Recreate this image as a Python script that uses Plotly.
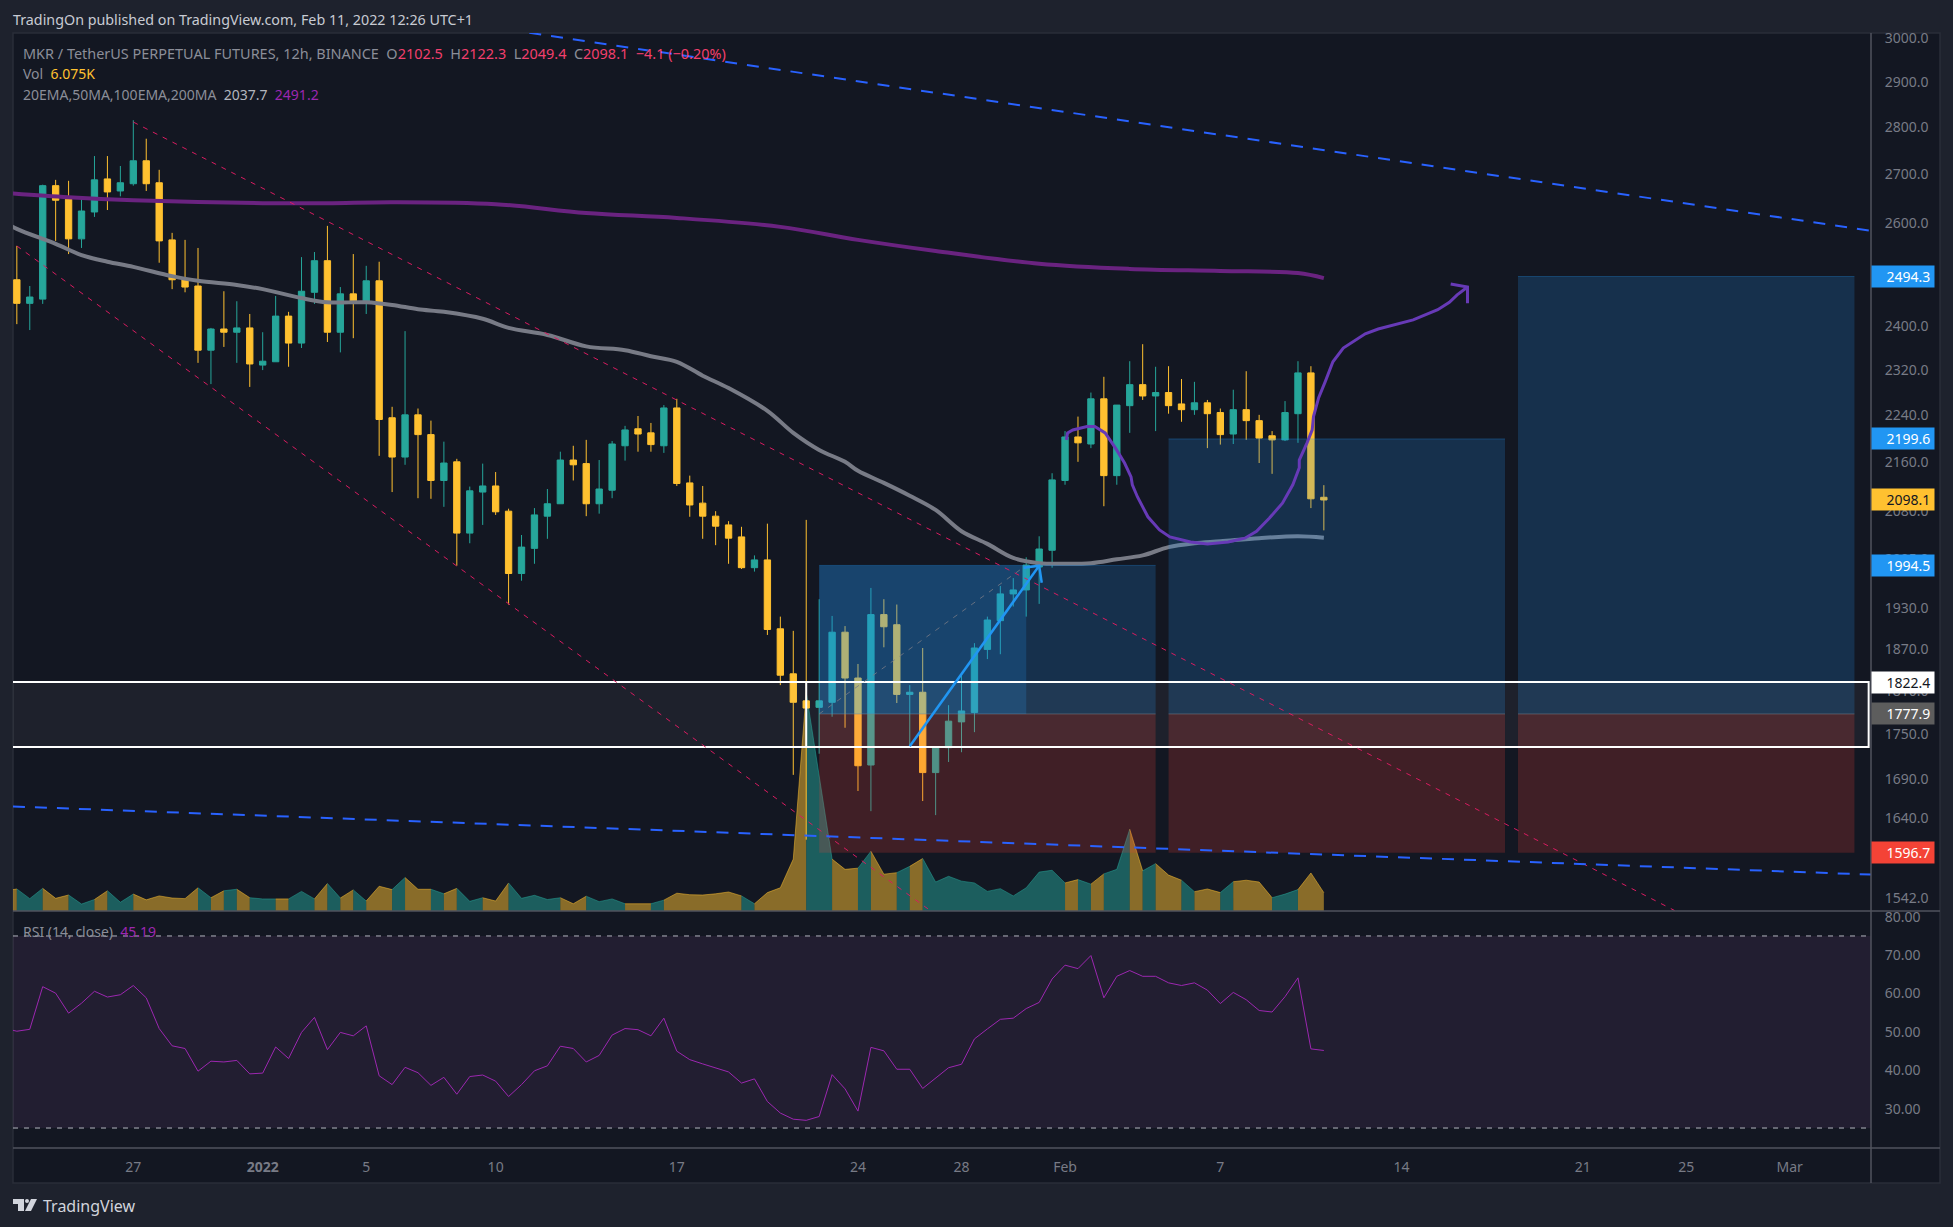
import numpy as np
import pandas as pd
import plotly.graph_objects as go

W, H = 1953, 1227

# 12h candles, first one is 2021-12-22 12:00 (bar -9), bar 0 is Dec 27
candle_open = [2488, 2443, 2451, 2676, 2648, 2568, 2622, 2690, 2665, 2680, 2728, 2682, 2566, 2490, 2476, 2356, 2395, 2389, 2397, 2329,
               2335, 2419, 2369, 2464, 2525, 2389, 2461, 2443, 2486, 2236, 2169, 2241, 2207, 2130, 2161, 2045, 2111, 2121, 2080, 1982,
               2021, 2072, 2092, 2164, 2158, 2092, 2114, 2188, 2217, 2210, 2188, 2253, 2126, 2093, 2072, 2058, 2039, 1991, 2003, 1899,
               1834, 1796, 1787, 1794, 1894, 1828, 1709, 1920, 1905, 1805, 1808, 1699, 1732, 1767, 1780, 1869, 1911, 1951, 1957, 1992,
               2018, 2130, 2203, 2191, 2269, 2138, 2257, 2294, 2274, 2280, 2260, 2250, 2262, 2245, 2208, 2250, 2231, 2205, 2198, 2243,
               2315, 2102.5]
candle_high = [2554, 2476, 2678, 2688, 2686, 2652, 2738, 2738, 2717, 2815, 2775, 2709, 2580, 2566, 2550, 2397, 2466, 2447, 2423, 2389,
               2457, 2427, 2532, 2542, 2594, 2474, 2538, 2515, 2523, 2255, 2391, 2252, 2231, 2195, 2166, 2120, 2158, 2144, 2084, 2042,
               2085, 2116, 2178, 2188, 2198, 2164, 2196, 2222, 2239, 2227, 2258, 2269, 2138, 2121, 2080, 2064, 2055, 2010, 2060, 1917,
               1896, 2066, 1943, 1918, 1903, 1848, 1960, 1943, 1935, 1818, 1871, 1732, 1790, 1832, 1878, 1917, 1963, 1975, 2007, 2040,
               2142, 2213, 2238, 2280, 2308, 2258, 2336, 2367, 2326, 2327, 2304, 2299, 2267, 2252, 2285, 2318, 2241, 2213, 2265, 2336,
               2327, 2122.3]
candle_low = [2404, 2393, 2442, 2564, 2538, 2550, 2612, 2626, 2654, 2676, 2665, 2521, 2470, 2464, 2333, 2295, 2362, 2333, 2290, 2320,
              2335, 2326, 2360, 2442, 2371, 2352, 2378, 2423, 2171, 2111, 2156, 2101, 2100, 2087, 1994, 2029, 2058, 2074, 1935, 1971,
              1997, 2036, 2092, 2130, 2072, 2076, 2101, 2163, 2178, 2178, 2176, 2121, 2071, 2036, 2026, 1997, 1989, 1985, 1890, 1818,
              1696, 1613, 1724, 1774, 1759, 1675, 1649, 1872, 1793, 1734, 1662, 1644, 1713, 1726, 1753, 1855, 1862, 1932, 1917, 1936,
              1991, 2123, 2161, 2184, 2088, 2123, 2210, 2267, 2213, 2243, 2229, 2241, 2184, 2190, 2191, 2198, 2159, 2141, 2196, 2193,
              2085, 2049.4]
candle_close = [2443, 2455, 2676, 2646, 2568, 2624, 2688, 2663, 2682, 2728, 2680, 2564, 2488, 2474, 2356, 2395, 2389, 2397, 2331, 2336,
                2419, 2369, 2466, 2525, 2389, 2461, 2443, 2486, 2233, 2169, 2241, 2207, 2130, 2159, 2045, 2113, 2121, 2079, 1982, 2023,
                2074, 2092, 2164, 2156, 2092, 2116, 2191, 2215, 2208, 2190, 2253, 2125, 2090, 2072, 2056, 2037, 1991, 2003, 1898, 1832,
                1794, 1786, 1796, 1894, 1828, 1708, 1920, 1902, 1805, 1808, 1699, 1732, 1768, 1782, 1871, 1912, 1951, 1957, 1995, 2020,
                2131, 2203, 2193, 2269, 2138, 2258, 2294, 2274, 2280, 2257, 2250, 2262, 2243, 2207, 2250, 2231, 2201, 2198, 2245, 2315,
                2100, 2098.1]

# volume in K and RSI start one bar earlier (bar -10)
volume = [6.6, 7.3, 4.1, 7.5, 4.2, 5.3, 2.3, 3.8, 6.7, 2.9, 5.6, 3.7, 5.0, 4.3, 4.1, 7.7, 4.4, 6.7, 7.2, 4.4,
          4.0, 4.0, 4.0, 6.5, 4.0, 9.1, 4.3, 7.0, 3.3, 8.2, 7.1, 11.1, 7.2, 7.2, 5.7, 7.5, 3.2, 4.4, 3.3, 9.3,
          4.2, 5.2, 3.8, 4.4, 2.4, 4.9, 3.1, 4.0, 2.4, 2.4, 2.4, 3.6, 5.9, 5.4, 5.3, 5.7, 6.3, 5.0, 2.4, 6.1,
          7.7, 17.2, 72.4, 44.8, 17.2, 13.8, 14.2, 19.8, 12.2, 12.7, 14.8, 17.4, 9.6, 11.5, 9.9, 9.3, 6.5, 7.4, 5.0, 7.7,
          12.9, 13.5, 9.3, 10.4, 8.9, 12.3, 13.8, 27.1, 13.3, 15.7, 11.9, 10.2, 6.4, 7.3, 6.1, 9.7, 10.2, 9.6, 4.4, 5.6,
          7.1, 12.6, 6.075]
rsi = [51.0, 50.2, 50.7, 61.8, 60.1, 54.9, 57.5, 60.6, 59.1, 59.7, 62.1, 58.9, 50.9, 46.4, 45.7, 39.8, 42.4, 42.2, 42.6, 39.1,
       39.3, 46.1, 43.1, 49.9, 53.8, 45.4, 49.9, 49.0, 51.6, 38.6, 36.3, 40.8, 39.4, 36.1, 38.2, 33.8, 38.4, 38.8, 37.2, 33.2,
       36.3, 39.9, 41.2, 46.3, 45.7, 42.2, 43.9, 49.2, 50.9, 50.6, 49.0, 53.6, 45.0, 42.8, 41.7, 40.6, 39.6, 36.7, 37.8, 31.9,
       28.9, 27.3, 27.0, 28.0, 38.9, 35.2, 29.4, 46.0, 45.1, 40.3, 40.3, 35.3, 38.0, 40.7, 41.6, 48.2, 50.8, 53.3, 53.6, 56.1,
       57.7, 63.8, 67.4, 66.5, 69.9, 58.9, 64.5, 66.0, 64.5, 64.5, 62.8, 62.1, 62.8, 60.9, 57.4, 60.3, 58.4, 55.6, 55.2, 59.2,
       64.1, 45.6, 45.19]

ma100_bars = [-10, -9, -6, -4, -2, 0, 3, 5, 8, 10, 13, 15, 18, 20, 22, 24, 27, 29, 32, 35, 38, 40, 42, 44, 46, 49, 51, 53, 55, 56,
              58, 60, 62, 64, 66, 68, 70, 72, 74, 76, 78, 80, 82, 84, 87, 90, 92]
ma100 = [2602, 2588, 2558, 2536, 2523, 2513, 2495, 2486, 2478, 2470, 2453, 2445, 2445, 2440, 2432, 2427, 2414, 2397, 2384, 2363,
         2356, 2345, 2335, 2310, 2288, 2248, 2210, 2181, 2161, 2146, 2126, 2105, 2082, 2048, 2028, 2006, 1998, 1997, 1998, 2004,
         2010, 2023, 2029, 2032, 2037, 2040, 2037.7]
ma200_bars = [-10, -5, 0, 10, 15, 20, 28, 35, 42, 50, 56, 62, 70, 77, 84, 90, 92]
ma200 = [2661, 2652, 2646, 2640, 2640, 2642, 2638, 2620, 2610, 2592, 2566, 2544, 2519, 2509, 2505, 2501, 2491.2]

# hand drawn forecast curve
sketch_bars = [72.1, 72.2, 72.6, 73.7, 74.3, 75.1, 75.9, 76.6, 77.1, 77.2, 77.6, 78.4, 79.3, 80.1, 81.7, 83.0, 84.6, 85.9, 86.8, 87.8,
               88.8, 89.6, 90.1, 90.1, 90.7, 91.1, 91.2, 91.6, 92.1, 92.7, 93.5, 94.2, 95.2, 96.2, 98.9, 100.8, 101.7, 102.3, 103.1]
sketch_price = [2198, 2210, 2215, 2221, 2221, 2210, 2184, 2159, 2136, 2123, 2103, 2071, 2050, 2039, 2031, 2028, 2031, 2037, 2048, 2069,
                2093, 2123, 2151, 2164, 2193, 2215, 2238, 2271, 2299, 2335, 2360, 2371, 2386, 2395, 2412, 2431, 2445, 2459, 2474]
sketch_head_bars = [101.8, 103.1, 103.1]
sketch_head_price = [2480, 2474, 2443]

# position tools: (start bar, end bar, target)
positions = [(53, 79, 1994.5), (80, 106, 2199.6), (107, 133, 2494.3)]
entry_price = 1777.9
stop_price = 1596.7
range_top = 1822.4
range_bottom = 1733

channel_upper = ([0, 119.1], [2811, 1527])
channel_lower = ([-9, 61.4], [2554, 1529])
wedge_upper = ([30.6, 134.3], [3012, 2584])
wedge_lower = ([-9.3, 134.3], [1655, 1570])
risk_line = ([53, 69], [1777.9, 1994.5])
move_arrow = ([60.0, 70.0], [1734, 1994])
move_head_bars = [68.8, 70.0, 70.2]
move_head_price = [1991, 1994, 1968]

price_ticks = [3000, 2900, 2800, 2700, 2600, 2400, 2320, 2240, 2160, 2080, 2005, 1930, 1870, 1810, 1750, 1690, 1640, 1590, 1542]
rsi_ticks = [80, 70, 60, 50, 40, 30]
date_ticks = ["2021-12-27", "2022-01-01", "2022-01-05", "2022-01-10", "2022-01-17", "2022-01-24", "2022-01-28",
              "2022-02-01", "2022-02-07", "2022-02-14", "2022-02-21", "2022-02-25", "2022-03-01"]
date_labels = ["27", "<b>2022</b>", "5", "10", "17", "24", "28", "Feb", "7", "14", "21", "25", "Mar"]

price_tags = [(2494.3, "#2196F3", "white"), (2199.6, "#2196F3", "white"), (2098.1, "#FFC130", "#131722"),
              (1994.5, "#2196F3", "white"), (1822.4, "white", "#131722"), (1777.9, "#5D5D5D", "white"),
              (1596.7, "#F44336", "white")]

BG = "#131722"
OUTER = "#1E222D"
BORDER = "#2A2E39"
SEP = "#50535E"
TEAL = "#26A69A"
YELLOW = "#FFC130"
FONT = "Noto Sans"
T0 = pd.Timestamp("2021-12-27")


def bar_time(bars):
    return [T0 + pd.Timedelta(hours=12 * b) for b in bars]


def px_x(x):
    return x / W


def px_y(y):
    return 1 - y / H


times = bar_time(range(-10, 93))
candle_up = [c >= o for o, c in zip(candle_open, candle_close)]

fig = go.Figure()

# volume as an area, each stretch takes the colour of the candle it ends on
start = 0
for k in range(1, len(candle_up) + 1):
    if k == len(candle_up) or candle_up[k] != candle_up[start]:
        up = candle_up[start]
        col = "rgba(38,166,154,0.5)" if up else "rgba(255,193,48,0.5)"
        fig.add_trace(go.Scatter(x=times[start:k + 1], y=volume[start:k + 1], mode="lines", fill="tozeroy",
                                 fillcolor=col, line=dict(color=col, width=1), xaxis="x", yaxis="y", hoverinfo="skip"))
        start = k

fig.add_trace(go.Candlestick(
    x=times[1:], open=candle_open, high=candle_high, low=candle_low, close=candle_close,
    increasing=dict(line=dict(color=TEAL, width=1), fillcolor=TEAL),
    decreasing=dict(line=dict(color=YELLOW, width=1), fillcolor=YELLOW),
    xaxis="x", yaxis="y2",
))


def price_line(bars, prices, color, width, dash="solid", shape="linear"):
    fig.add_trace(go.Scatter(x=bar_time(bars), y=prices, mode="lines",
                             line=dict(color=color, width=width, dash=dash, shape=shape),
                             xaxis="x", yaxis="y2", hoverinfo="skip"))


def price_box(b0, b1, p0, p1, fill, edge=None):
    fig.add_trace(go.Scatter(x=bar_time([b0, b1, b1, b0, b0]), y=[p0, p0, p1, p1, p0], mode="lines", fill="toself",
                             fillcolor=fill, line=dict(color=edge or "rgba(0,0,0,0)", width=1),
                             xaxis="x", yaxis="y2", hoverinfo="skip"))


price_line(ma200_bars, ma200, "#6A2380", 4, shape="spline")
price_line(ma100_bars, ma100, "#787B86", 4, shape="spline")

for b0, b1, target in positions:
    price_box(b0, b1, entry_price, target, "rgba(33,150,243,0.2)")
    price_box(b0, b1, stop_price, entry_price, "rgba(244,67,54,0.2)")
    price_line([b0, b1], [target, target], "rgba(33,150,243,0.3)", 1)
    price_line([b0, b1], [entry_price, entry_price], "rgba(120,123,134,0.5)", 1)
# the first trade has already run, its blue part is painted twice
price_box(positions[0][0], 69, entry_price, positions[0][2], "rgba(33,150,243,0.2)")

price_box(-12, 134.1, range_bottom, range_top, "rgba(255,255,255,0.047)", "white")
fig.data[-1].line.width = 2
price_line([52, 52], [range_bottom, range_top], "white", 2)

price_line(*channel_upper, "#D81B60", 1, "5px,6px")
price_line(*channel_lower, "#D81B60", 1, "5px,6px")
price_line(*wedge_upper, "#2962FF", 2, "12px,10px")
price_line(*wedge_lower, "#2962FF", 2, "12px,10px")
price_line(*risk_line, "rgba(120,123,134,0.8)", 1, "5px,6px")
price_line(*move_arrow, "#2196F3", 2.5)
price_line(move_head_bars, move_head_price, "#2196F3", 2.5)
price_line(sketch_bars, sketch_price, "#673AB7", 3)
price_line(sketch_head_bars, sketch_head_price, "#673AB7", 3)

fig.add_trace(go.Scatter(x=times, y=rsi, mode="lines", line=dict(color="#9C27B0", width=1), xaxis="x", yaxis="y3",
                         hoverinfo="skip"))

shapes = [
    dict(type="rect", xref="paper", yref="paper", x0=px_x(13), x1=px_x(1940), y0=px_y(1183), y1=px_y(33),
         fillcolor=BG, line=dict(color=BORDER, width=1.5), layer="below"),
    dict(type="rect", xref="x", yref="y3", x0=times[0], x1="2022-03-04 03:22", y0=25, y1=75,
         fillcolor="rgba(170,95,185,0.1)", line=dict(width=0), layer="below"),
]
for level in [75, 25]:
    shapes.append(dict(type="line", xref="paper", yref="y3", x0=px_x(13), x1=px_x(1871), y0=level, y1=level,
                       line=dict(color="#B2B5BE", width=1, dash="5px,6px")))
for y in [911, 1148]:
    shapes.append(dict(type="line", xref="paper", yref="paper", x0=px_x(13), x1=px_x(1940), y0=px_y(y), y1=px_y(y),
                       line=dict(color=SEP, width=1.5)))
shapes.append(dict(type="line", xref="paper", yref="paper", x0=px_x(1871), x1=px_x(1871), y0=px_y(33), y1=px_y(1183),
                   line=dict(color=SEP, width=1.5)))

# TradingView mark in the footer
LOGO = "#D1D4DC"
shapes.append(dict(type="rect", xref="paper", yref="paper", x0=px_x(13), x1=px_x(24), y0=px_y(1204), y1=px_y(1199),
                   fillcolor=LOGO, line=dict(width=0)))
shapes.append(dict(type="rect", xref="paper", yref="paper", x0=px_x(18), x1=px_x(24), y0=px_y(1211), y1=px_y(1199),
                   fillcolor=LOGO, line=dict(width=0)))
shapes.append(dict(type="circle", xref="paper", yref="paper", x0=px_x(25), x1=px_x(29), y0=px_y(1203), y1=px_y(1199),
                   fillcolor=LOGO, line=dict(width=0)))
shapes.append(dict(type="path", xref="paper", yref="paper", fillcolor=LOGO, line=dict(width=0),
                   path="M %f,%f L %f,%f L %f,%f L %f,%f Z" % (px_x(31), px_y(1199), px_x(37), px_y(1199),
                                                               px_x(31), px_y(1211), px_x(25), px_y(1211))))

annotations = []


def label(x, y, text, color="#B2B5BE", size=14):
    annotations.append(dict(xref="paper", yref="paper", x=px_x(x), y=px_y(y), text=text, showarrow=False,
                            xanchor="left", yanchor="middle", font=dict(family=FONT, size=size, color=color)))


RED = "#F23F6D"
GREY = "#8B8E99"


def red(text):
    return '<span style="color:%s">%s</span>' % (RED, text)


label(11, 19, "TradingOn published on TradingView.com, Feb 11, 2022 12:26 UTC+1", "#C8CBD3", 14.3)
label(21, 54, "MKR / TetherUS PERPETUAL FUTURES, 12h, BINANCE  O" + red("2102.5") + "  H" + red("2122.3")
      + "  L" + red("2049.4") + "  C" + red("2098.1") + "  " + red("−4.1 (−0.20%)"), GREY, 14.45)
label(21, 74, 'Vol  <span style="color:%s">6.075K</span>' % YELLOW, GREY, 14)
label(21, 95, '20EMA,50MA,100EMA,200MA  <span style="color:#B2B5BE">2037.7</span>  <span style="color:#9C27B0">2491.2</span>',
      GREY, 14)
label(21, 932, 'RSI (14, close)  <span style="color:#9C27B0">45.19</span>', GREY, 14)
label(41, 1206, "TradingView", "#D1D4DC", 16)

for value, bg, fg in price_tags:
    annotations.append(dict(xref="paper", yref="y2", x=px_x(1871), y=np.log10(value), text="%.1f&nbsp;" % value, showarrow=False,
                            xanchor="left", yanchor="middle", width=62, height=21, align="right", bgcolor=bg, borderpad=0,
                            font=dict(family=FONT, size=14, color=fg)))

tick_font = dict(family=FONT, size=14, color="#787B86")
fig.update_layout(
    width=W, height=H, autosize=False,
    margin=dict(l=0, r=0, t=0, b=0),
    paper_bgcolor=OUTER, plot_bgcolor="rgba(0,0,0,0)",
    showlegend=False, hovermode=False,
    shapes=shapes, annotations=annotations,
    xaxis=dict(domain=[px_x(13), px_x(1871)], anchor="y3", range=["2021-12-22 08:27", "2022-03-04 03:22"],
               tickmode="array", tickvals=date_ticks, ticktext=date_labels, tickfont=tick_font, automargin=False,
               ticks="outside", ticklen=6, tickcolor="rgba(0,0,0,0)", showgrid=False, zeroline=False,
               rangeslider=dict(visible=False)),
    yaxis=dict(domain=[px_y(911), px_y(33)], range=[0, 291], visible=False, anchor="x", automargin=False),
    yaxis2=dict(domain=[px_y(911), px_y(33)], type="log", overlaying="y", side="right", anchor="x", automargin=False,
                range=[np.log10(1526.4), np.log10(3011.6)], tickmode="array", tickvals=price_ticks,
                ticktext=["%.1f" % t for t in price_ticks], tickfont=tick_font, ticks="outside", ticklen=10,
                tickcolor="rgba(0,0,0,0)", showgrid=False, zeroline=False),
    yaxis3=dict(domain=[px_y(1148), px_y(911)], side="right", anchor="x", range=[19.8, 81.5], tickmode="array",
                automargin=False, tickvals=rsi_ticks, ticktext=["%.2f" % t for t in rsi_ticks], tickfont=tick_font,
                ticks="outside", ticklen=10, tickcolor="rgba(0,0,0,0)", showgrid=False, zeroline=False),
)

fig.write_html("out.html", config=dict(displayModeBar=False), post_script="document.body.style.margin='0';")
